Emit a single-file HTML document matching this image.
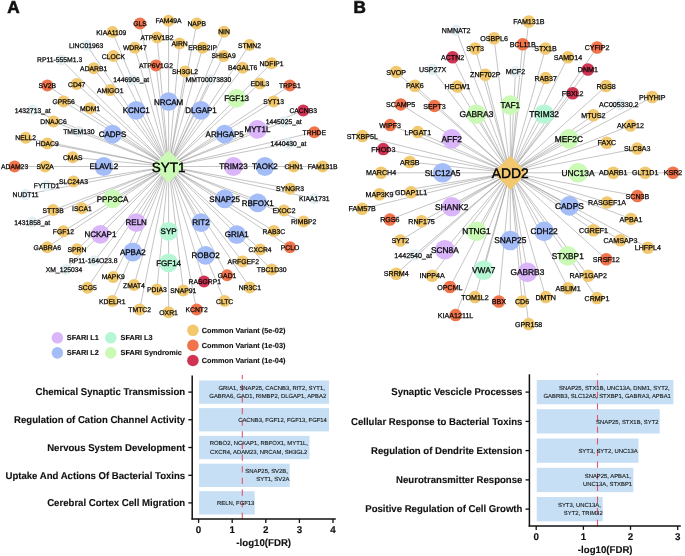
<!DOCTYPE html>
<html><head><meta charset="utf-8"><title>Figure</title>
<style>html,body{margin:0;padding:0;background:#fff}svg{display:block}text{font-family:"Liberation Sans",Arial,Helvetica,sans-serif;fill:#111;text-rendering:geometricPrecision}.s{text-anchor:middle;fill:#000;stroke:#000;stroke-width:0.25px}.h{text-anchor:middle;fill:#000;stroke:#000;stroke-width:0.3px}.c{text-anchor:middle;fill:#000;stroke:#000;stroke-width:0.4px}.b{font-weight:bold}.k{stroke:#111;stroke-width:0.12px}.e{stroke:#7d7d7d;stroke-width:0.45;fill:none}.g{font-size:5.9px;text-anchor:end;fill:#111;stroke:#111;stroke-width:0.1px}</style></head><body>
<svg width="685" height="556" viewBox="0 0 685 556">
<rect width="685" height="556" fill="#fff"/>
<text class="b" x="7.2" y="13.1" font-size="17.2" stroke="#111" stroke-width="0.6">A</text>
<text class="b" x="353.6" y="13.1" font-size="17.2" stroke="#111" stroke-width="0.6">B</text>
<path class="e" d="M168.6 166.5L322.6 166.5M168.6 166.5L290.1 188.7M168.6 166.5L314.3 198.6M168.6 166.5L284.0 210.4M168.6 166.5L303.6 221.6M168.6 166.5L224.7 198.9M168.6 166.5L273.9 231.0M168.6 166.5L290.0 247.3M168.6 166.5L260.1 249.4M168.6 166.5L271.7 269.6M168.6 166.5L242.5 261.5M168.6 166.5L249.8 287.6M168.6 166.5L201.0 222.6M168.6 166.5L227.1 275.3M168.6 166.5L224.6 301.1M168.6 166.5L204.0 281.6M168.6 166.5L196.6 309.6M168.6 166.5L183.3 290.5M168.6 166.5L168.6 312.3M168.6 166.5L156.9 289.4M168.6 166.5L139.7 309.4M168.6 166.5L134.0 285.1M168.6 166.5L112.3 301.0M168.6 166.5L113.2 276.9M168.6 166.5L136.2 222.6M168.6 166.5L87.5 287.7M168.6 166.5L94.5 260.7M168.6 166.5L65.3 269.4M168.6 166.5L77.0 249.3M168.6 166.5L47.2 247.3M168.6 166.5L63.4 231.2M168.6 166.5L112.5 198.9M168.6 166.5L81.9 208.3M168.6 166.5L32.2 222.0M168.6 166.5L53.1 210.1M168.6 166.5L25.5 194.6M168.6 166.5L46.6 185.6M168.6 166.5L14.6 166.5M168.6 166.5L72.7 157.3M168.6 166.5L47.3 143.5M168.6 166.5L25.7 137.8M168.6 166.5L53.5 121.6M168.6 166.5L32.7 110.0M168.6 166.5L112.5 134.1M168.6 166.5L63.6 101.5M168.6 166.5L47.3 85.6M168.6 166.5L90.1 108.3M168.6 166.5L76.7 84.0M168.6 166.5L61.2 59.9M168.6 166.5L93.7 68.3M168.6 166.5L87.1 45.6M168.6 166.5L136.2 110.4M168.6 166.5L113.4 56.0M168.6 166.5L112.4 32.0M168.6 166.5L134.8 47.7M168.6 166.5L140.0 23.5M168.6 166.5L156.0 65.5M168.6 166.5L157.1 37.4M168.6 166.5L168.6 20.7M168.6 166.5L179.6 43.5M168.6 166.5L185.1 71.6M168.6 166.5L196.7 23.4M168.6 166.5L202.6 47.8M168.6 166.5L224.0 31.7M168.6 166.5L210.0 79.6M168.6 166.5L223.6 55.9M168.6 166.5L201.0 110.4M168.6 166.5L249.4 45.1M168.6 166.5L242.7 67.7M168.6 166.5L271.5 63.2M168.6 166.5L259.9 83.4M168.6 166.5L289.9 85.6M168.6 166.5L273.6 101.5M168.6 166.5L224.7 134.1M168.6 166.5L303.2 110.4M168.6 166.5L283.7 121.8M168.6 166.5L314.3 132.2M168.6 166.5L288.4 143.4"/>
<circle cx="322.6" cy="166.5" r="6.00" fill="#f1c86e"/>
<circle cx="293.7" cy="166.5" r="6.00" fill="#f1c86e"/>
<circle cx="290.1" cy="188.7" r="6.00" fill="#f1c86e"/>
<circle cx="314.3" cy="198.6" r="5.50" fill="#e3eff3"/>
<circle cx="284.0" cy="210.4" r="6.00" fill="#f1c86e"/>
<circle cx="303.6" cy="221.6" r="6.00" fill="#f1c86e"/>
<circle cx="273.9" cy="231.0" r="6.00" fill="#f1c86e"/>
<circle cx="290.0" cy="247.3" r="6.00" fill="#f0734b"/>
<circle cx="260.1" cy="249.4" r="6.00" fill="#f1c86e"/>
<circle cx="271.7" cy="269.6" r="6.00" fill="#f1c86e"/>
<circle cx="242.5" cy="261.5" r="6.00" fill="#f1c86e"/>
<circle cx="249.8" cy="287.6" r="6.00" fill="#f1c86e"/>
<circle cx="227.1" cy="275.3" r="6.00" fill="#f0734b"/>
<circle cx="224.6" cy="301.1" r="6.00" fill="#f1c86e"/>
<circle cx="204.0" cy="281.6" r="6.00" fill="#cf3553"/>
<circle cx="196.6" cy="309.6" r="6.00" fill="#f0734b"/>
<circle cx="183.3" cy="290.5" r="6.00" fill="#f1c86e"/>
<circle cx="168.6" cy="312.3" r="6.00" fill="#f1c86e"/>
<circle cx="156.9" cy="289.4" r="6.00" fill="#f1c86e"/>
<circle cx="139.7" cy="309.4" r="6.00" fill="#f1c86e"/>
<circle cx="134.0" cy="285.1" r="6.00" fill="#f1c86e"/>
<circle cx="112.3" cy="301.0" r="6.00" fill="#f1c86e"/>
<circle cx="113.2" cy="276.9" r="6.00" fill="#f1c86e"/>
<circle cx="87.5" cy="287.7" r="6.00" fill="#f1c86e"/>
<circle cx="94.5" cy="260.7" r="5.50" fill="#e3eff3"/>
<circle cx="65.3" cy="269.4" r="5.50" fill="#e3eff3"/>
<circle cx="77.0" cy="249.3" r="6.00" fill="#f1c86e"/>
<circle cx="47.2" cy="247.3" r="6.00" fill="#f1c86e"/>
<circle cx="63.4" cy="231.2" r="6.00" fill="#f1c86e"/>
<circle cx="81.9" cy="208.3" r="6.00" fill="#f1c86e"/>
<circle cx="32.2" cy="222.0" r="5.50" fill="#e3eff3"/>
<circle cx="53.1" cy="210.1" r="6.00" fill="#f1c86e"/>
<circle cx="25.5" cy="194.6" r="5.50" fill="#e3eff3"/>
<circle cx="46.6" cy="185.6" r="5.50" fill="#e3eff3"/>
<circle cx="73.5" cy="181.4" r="6.00" fill="#f1c86e"/>
<circle cx="45.1" cy="166.5" r="6.00" fill="#f1c86e"/>
<circle cx="14.6" cy="166.5" r="6.00" fill="#f0734b"/>
<circle cx="72.7" cy="157.3" r="6.00" fill="#f1c86e"/>
<circle cx="47.3" cy="143.5" r="6.00" fill="#f1c86e"/>
<circle cx="25.7" cy="137.8" r="6.00" fill="#f1c86e"/>
<circle cx="53.5" cy="121.6" r="6.00" fill="#f1c86e"/>
<circle cx="78.9" cy="131.5" r="5.50" fill="#e3eff3"/>
<circle cx="32.7" cy="110.0" r="5.50" fill="#e3eff3"/>
<circle cx="63.6" cy="101.5" r="6.00" fill="#f1c86e"/>
<circle cx="47.3" cy="85.6" r="6.00" fill="#f0734b"/>
<circle cx="90.1" cy="108.3" r="6.00" fill="#f1c86e"/>
<circle cx="76.7" cy="84.0" r="6.00" fill="#f1c86e"/>
<circle cx="61.2" cy="59.9" r="5.50" fill="#e3eff3"/>
<circle cx="110.2" cy="90.0" r="6.00" fill="#f1c86e"/>
<circle cx="93.7" cy="68.3" r="6.00" fill="#f1c86e"/>
<circle cx="87.1" cy="45.6" r="5.50" fill="#e3eff3"/>
<circle cx="113.4" cy="56.0" r="6.00" fill="#f1c86e"/>
<circle cx="132.4" cy="79.9" r="5.50" fill="#e3eff3"/>
<circle cx="112.4" cy="32.0" r="6.00" fill="#f1c86e"/>
<circle cx="134.8" cy="47.7" r="6.00" fill="#f1c86e"/>
<circle cx="140.0" cy="23.5" r="6.00" fill="#f0734b"/>
<circle cx="156.0" cy="65.5" r="6.00" fill="#f0734b"/>
<circle cx="157.1" cy="37.4" r="6.00" fill="#f1c86e"/>
<circle cx="168.6" cy="20.7" r="6.00" fill="#f1c86e"/>
<circle cx="179.6" cy="43.5" r="6.00" fill="#f1c86e"/>
<circle cx="185.1" cy="71.6" r="6.00" fill="#f1c86e"/>
<circle cx="196.7" cy="23.4" r="6.00" fill="#f1c86e"/>
<circle cx="202.6" cy="47.8" r="6.00" fill="#f1c86e"/>
<circle cx="224.0" cy="31.7" r="6.00" fill="#f1c86e"/>
<circle cx="210.0" cy="79.6" r="5.50" fill="#e3eff3"/>
<circle cx="223.6" cy="55.9" r="6.00" fill="#f1c86e"/>
<circle cx="249.4" cy="45.1" r="6.00" fill="#f1c86e"/>
<circle cx="242.7" cy="67.7" r="6.00" fill="#f1c86e"/>
<circle cx="271.5" cy="63.2" r="6.00" fill="#f1c86e"/>
<circle cx="259.9" cy="83.4" r="6.00" fill="#f1c86e"/>
<circle cx="289.9" cy="85.6" r="6.00" fill="#f0734b"/>
<circle cx="273.6" cy="101.5" r="6.00" fill="#f1c86e"/>
<circle cx="303.2" cy="110.4" r="6.00" fill="#cf3553"/>
<circle cx="283.7" cy="121.8" r="5.50" fill="#e3eff3"/>
<circle cx="314.3" cy="132.2" r="6.00" fill="#f0734b"/>
<circle cx="288.4" cy="143.4" r="5.50" fill="#e3eff3"/>
<circle cx="233.4" cy="166.5" r="9.40" fill="#dab5fa"/>
<circle cx="264.9" cy="166.5" r="9.40" fill="#a4bcf7"/>
<circle cx="257.7" cy="202.9" r="9.40" fill="#a4bcf7"/>
<circle cx="224.7" cy="198.9" r="9.40" fill="#a4bcf7"/>
<circle cx="236.7" cy="234.6" r="9.40" fill="#a4bcf7"/>
<circle cx="201.0" cy="222.6" r="9.40" fill="#a4bcf7"/>
<circle cx="205.6" cy="255.4" r="9.40" fill="#a4bcf7"/>
<circle cx="168.6" cy="231.3" r="9.40" fill="#b5f7d5"/>
<circle cx="168.6" cy="262.8" r="9.40" fill="#b5f7d5"/>
<circle cx="132.8" cy="252.0" r="9.40" fill="#a4bcf7"/>
<circle cx="136.2" cy="222.6" r="9.40" fill="#dab5fa"/>
<circle cx="100.4" cy="234.4" r="9.40" fill="#dab5fa"/>
<circle cx="112.5" cy="198.9" r="9.40" fill="#cbf9b6"/>
<circle cx="103.8" cy="166.5" r="9.40" fill="#a4bcf7"/>
<circle cx="112.5" cy="134.1" r="9.40" fill="#a4bcf7"/>
<circle cx="136.2" cy="110.4" r="9.40" fill="#a4bcf7"/>
<circle cx="168.6" cy="101.7" r="9.40" fill="#a4bcf7"/>
<circle cx="201.0" cy="110.4" r="9.40" fill="#a4bcf7"/>
<circle cx="236.6" cy="98.3" r="9.40" fill="#cbf9b6"/>
<circle cx="224.7" cy="134.1" r="9.40" fill="#a4bcf7"/>
<circle cx="257.5" cy="129.4" r="9.40" fill="#dab5fa"/>
<polygon points="168.6,150.3 184.79999999999998,166.5 168.6,182.7 152.4,166.5" fill="#cbf9b6"/>
<g class="s" font-size="6.80">
<text x="322.6" y="169.0">FAM131B</text>
<text x="293.7" y="169.0">CHN1</text>
<text x="290.1" y="191.2">SYNGR3</text>
<text x="314.3" y="201.1">KIAA1731</text>
<text x="284.0" y="212.9">EXOC2</text>
<text x="303.6" y="224.1">RIMBP2</text>
<text x="273.9" y="233.5">RAB3C</text>
<text x="290.0" y="249.8">PCLO</text>
<text x="260.1" y="251.9">CXCR4</text>
<text x="271.7" y="272.1">TBC1D30</text>
<text x="243.3" y="264.0">ARFGEF2</text>
<text x="249.8" y="290.1">NR3C1</text>
<text x="227.1" y="277.8">GAD1</text>
<text x="224.6" y="303.6">CLTC</text>
<text x="204.8" y="284.1">RASGRP1</text>
<text x="196.6" y="312.1">KCNT2</text>
<text x="183.3" y="293.0">SNAP91</text>
<text x="168.6" y="314.8">OXR1</text>
<text x="156.9" y="291.9">PDIA3</text>
<text x="139.7" y="311.9">TMTC2</text>
<text x="134.0" y="287.6">ZMAT4</text>
<text x="112.3" y="303.5">KDELR1</text>
<text x="113.2" y="279.4">MAPK9</text>
<text x="87.5" y="290.2">SCG5</text>
<text x="93.2" y="263.2">RP11-164O23.8</text>
<text x="64.0" y="271.9">XM_125034</text>
<text x="77.0" y="251.8">SPRN</text>
<text x="47.2" y="249.8">GABRA6</text>
<text x="63.4" y="233.7">FGF12</text>
<text x="81.9" y="210.8">ISCA1</text>
<text x="32.2" y="224.5">1431858_at</text>
<text x="53.1" y="212.6">STT3B</text>
<text x="25.5" y="197.1">NUDT11</text>
<text x="46.6" y="188.1">FYTTD1</text>
<text x="73.5" y="183.9">SLC24A3</text>
<text x="45.1" y="169.0">SV2A</text>
<text x="14.6" y="169.0">ADAM23</text>
<text x="72.7" y="159.8">CMAS</text>
<text x="47.3" y="146.0">HDAC9</text>
<text x="25.7" y="140.3">NELL2</text>
<text x="53.5" y="124.1">DNAJC6</text>
<text x="78.9" y="134.0">TMEM130</text>
<text x="32.7" y="112.5">1432713_at</text>
<text x="63.6" y="104.0">GPR56</text>
<text x="47.3" y="88.1">SV2B</text>
<text x="90.1" y="110.8">MDM1</text>
<text x="76.7" y="86.5">CD47</text>
<text x="59.6" y="62.4">RP11-555M1.3</text>
<text x="110.2" y="92.5">AMIGO1</text>
<text x="93.7" y="70.8">ADARB1</text>
<text x="86.1" y="48.1">LINC01963</text>
<text x="113.4" y="58.5">CLOCK</text>
<text x="131.2" y="82.4">1446906_at</text>
<text x="111.3" y="34.5">KIAA1109</text>
<text x="134.8" y="50.2">WDR47</text>
<text x="140.0" y="26.0">GLS</text>
<text x="156.0" y="68.0">ATP6V1G2</text>
<text x="157.1" y="39.9">ATP6V1B2</text>
<text x="168.6" y="23.2">FAM49A</text>
<text x="179.6" y="46.0">AIRN</text>
<text x="185.1" y="74.1">SH3GL2</text>
<text x="196.7" y="25.9">NAPB</text>
<text x="202.6" y="50.3">ERBB2IP</text>
<text x="224.0" y="34.2">NIN</text>
<text x="208.5" y="82.1">MMT00073830</text>
<text x="223.6" y="58.4">SHISA9</text>
<text x="249.4" y="47.6">STMN2</text>
<text x="242.7" y="70.2">B4GALT6</text>
<text x="271.5" y="65.7">NDFIP1</text>
<text x="259.9" y="85.9">EDIL3</text>
<text x="289.9" y="88.1">TRPS1</text>
<text x="273.6" y="104.0">SYT13</text>
<text x="303.2" y="112.9">CACNB3</text>
<text x="283.7" y="124.3">1445025_at</text>
<text x="314.3" y="134.7">TRHDE</text>
<text x="288.4" y="145.9">1440430_at</text>
</g>
<g class="h" font-size="8.00">
<text x="233.4" y="169.2">TRIM23</text>
<text x="264.9" y="169.2">TAOK2</text>
<text x="257.7" y="205.7">RBFOX1</text>
<text x="224.7" y="201.7">SNAP25</text>
<text x="236.7" y="237.3">GRIA1</text>
<text x="201.0" y="225.3">RIT2</text>
<text x="205.6" y="258.1">ROBO2</text>
<text x="168.6" y="234.1">SYP</text>
<text x="168.6" y="265.6">FGF14</text>
<text x="132.8" y="254.8">APBA2</text>
<text x="136.2" y="225.3">RELN</text>
<text x="100.4" y="237.2">NCKAP1</text>
<text x="112.5" y="201.7">PPP3CA</text>
<text x="103.8" y="169.2">ELAVL2</text>
<text x="112.5" y="136.8">CADPS</text>
<text x="136.2" y="113.2">KCNC1</text>
<text x="168.6" y="104.5">NRCAM</text>
<text x="201.0" y="113.2">DLGAP1</text>
<text x="236.6" y="101.0">FGF13</text>
<text x="224.7" y="136.8">ARHGAP5</text>
<text x="257.5" y="132.2">MYT1L</text>
</g>
<text class="c" font-size="13.5" x="168.6" y="171.5">SYT1</text>
<path class="e" d="M510.3 172.8L673.0 172.8M510.3 172.8L637.4 196.0M510.3 172.8L607.0 202.4M510.3 172.8L631.0 218.9M510.3 172.8L647.8 247.7M510.3 172.8L569.4 205.9M510.3 172.8L620.4 240.3M510.3 172.8L593.5 230.2M510.3 172.8L606.2 259.3M510.3 172.8L588.2 275.8M510.3 172.8L597.0 298.1M510.3 172.8L544.1 231.4M510.3 172.8L568.1 288.3M510.3 172.8L545.7 297.1M510.3 172.8L527.4 272.4M510.3 172.8L528.7 324.1M510.3 172.8L522.1 301.5M510.3 172.8L510.3 240.5M510.3 172.8L498.8 301.5M510.3 172.8L483.7 270.3M510.3 172.8L475.0 297.1M510.3 172.8L455.6 315.1M510.3 172.8L449.9 287.0M510.3 172.8L476.5 231.4M510.3 172.8L432.1 275.7M510.3 172.8L444.8 249.8M510.3 172.8L396.2 273.8M510.3 172.8L414.6 255.0M510.3 172.8L400.3 240.6M510.3 172.8L451.7 206.7M510.3 172.8L421.6 221.3M510.3 172.8L389.9 219.6M510.3 172.8L362.2 208.8M510.3 172.8L411.1 192.3M510.3 172.8L379.5 194.3M510.3 172.8L381.1 172.8M510.3 172.8L409.8 162.0M510.3 172.8L383.3 149.1M510.3 172.8L362.4 136.1M510.3 172.8L390.2 125.1M510.3 172.8L417.8 132.1M510.3 172.8L451.7 138.9M510.3 172.8L400.7 104.4M510.3 172.8L396.1 71.9M510.3 172.8L414.9 85.7M510.3 172.8L432.6 69.6M510.3 172.8L457.4 86.6M510.3 172.8L476.4 114.2M510.3 172.8L452.6 57.2M510.3 172.8L456.2 30.3M510.3 172.8L475.2 48.5M510.3 172.8L485.3 74.8M510.3 172.8L494.1 38.3M510.3 172.8L510.3 105.1M510.3 172.8L515.5 71.8M510.3 172.8L522.7 44.2M510.3 172.8L528.8 21.5M510.3 172.8L545.5 48.5M510.3 172.8L545.7 78.1M510.3 172.8L567.9 57.2M510.3 172.8L544.1 114.2M510.3 172.8L597.1 47.5M510.3 172.8L587.9 69.5M510.3 172.8L572.7 93.2M510.3 172.8L606.1 86.1M510.3 172.8L593.4 115.2M510.3 172.8L620.0 104.5M510.3 172.8L568.9 138.9M510.3 172.8L652.3 97.0M510.3 172.8L630.5 125.5M510.3 172.8L606.8 142.7M510.3 172.8L637.2 148.6"/>
<circle cx="673.0" cy="172.8" r="6.27" fill="#f0734b"/>
<circle cx="645.2" cy="172.8" r="6.27" fill="#f1c86e"/>
<circle cx="613.3" cy="172.8" r="6.27" fill="#f1c86e"/>
<circle cx="637.4" cy="196.0" r="6.27" fill="#f0734b"/>
<circle cx="607.0" cy="202.4" r="6.27" fill="#f1c86e"/>
<circle cx="631.0" cy="218.9" r="6.27" fill="#f1c86e"/>
<circle cx="647.8" cy="247.7" r="6.27" fill="#f1c86e"/>
<circle cx="620.4" cy="240.3" r="6.27" fill="#f1c86e"/>
<circle cx="593.5" cy="230.2" r="6.27" fill="#f1c86e"/>
<circle cx="606.2" cy="259.3" r="6.27" fill="#f0734b"/>
<circle cx="588.2" cy="275.8" r="6.27" fill="#f1c86e"/>
<circle cx="597.0" cy="298.1" r="6.27" fill="#f1c86e"/>
<circle cx="568.1" cy="288.3" r="6.27" fill="#f1c86e"/>
<circle cx="545.7" cy="297.1" r="6.27" fill="#f1c86e"/>
<circle cx="528.7" cy="324.1" r="6.27" fill="#f1c86e"/>
<circle cx="522.1" cy="301.5" r="6.27" fill="#f1c86e"/>
<circle cx="498.8" cy="301.5" r="6.27" fill="#f0734b"/>
<circle cx="475.0" cy="297.1" r="6.27" fill="#f1c86e"/>
<circle cx="455.6" cy="315.1" r="6.27" fill="#f0734b"/>
<circle cx="449.9" cy="287.0" r="6.27" fill="#f0734b"/>
<circle cx="432.1" cy="275.7" r="6.27" fill="#f1c86e"/>
<circle cx="396.2" cy="273.8" r="6.27" fill="#f1c86e"/>
<circle cx="414.6" cy="255.0" r="5.75" fill="#e3eff3"/>
<circle cx="400.3" cy="240.6" r="6.27" fill="#f1c86e"/>
<circle cx="421.6" cy="221.3" r="6.27" fill="#f1c86e"/>
<circle cx="389.9" cy="219.6" r="6.27" fill="#f0734b"/>
<circle cx="362.2" cy="208.8" r="6.27" fill="#f1c86e"/>
<circle cx="411.1" cy="192.3" r="6.27" fill="#f1c86e"/>
<circle cx="379.5" cy="194.3" r="6.27" fill="#f1c86e"/>
<circle cx="381.1" cy="172.8" r="6.27" fill="#f1c86e"/>
<circle cx="409.8" cy="162.0" r="6.27" fill="#f1c86e"/>
<circle cx="383.3" cy="149.1" r="6.27" fill="#cf3553"/>
<circle cx="362.4" cy="136.1" r="6.27" fill="#f1c86e"/>
<circle cx="390.2" cy="125.1" r="6.27" fill="#f0734b"/>
<circle cx="417.8" cy="132.1" r="6.27" fill="#f1c86e"/>
<circle cx="400.7" cy="104.4" r="6.27" fill="#f0734b"/>
<circle cx="434.5" cy="105.9" r="6.27" fill="#f0734b"/>
<circle cx="396.1" cy="71.9" r="6.27" fill="#f1c86e"/>
<circle cx="414.9" cy="85.7" r="6.27" fill="#f1c86e"/>
<circle cx="432.6" cy="69.6" r="5.75" fill="#e3eff3"/>
<circle cx="457.4" cy="86.6" r="6.27" fill="#f1c86e"/>
<circle cx="452.6" cy="57.2" r="6.27" fill="#cf3553"/>
<circle cx="456.2" cy="30.3" r="5.75" fill="#e3eff3"/>
<circle cx="475.2" cy="48.5" r="6.27" fill="#f1c86e"/>
<circle cx="485.3" cy="74.8" r="6.27" fill="#f1c86e"/>
<circle cx="494.1" cy="38.3" r="6.27" fill="#f1c86e"/>
<circle cx="515.5" cy="71.8" r="5.75" fill="#e3eff3"/>
<circle cx="522.7" cy="44.2" r="6.27" fill="#f0734b"/>
<circle cx="528.8" cy="21.5" r="6.27" fill="#f1c86e"/>
<circle cx="545.5" cy="48.5" r="6.27" fill="#f1c86e"/>
<circle cx="545.7" cy="78.1" r="6.27" fill="#f1c86e"/>
<circle cx="567.9" cy="57.2" r="6.27" fill="#f1c86e"/>
<circle cx="597.1" cy="47.5" r="6.27" fill="#f0734b"/>
<circle cx="587.9" cy="69.5" r="6.27" fill="#cf3553"/>
<circle cx="572.7" cy="93.2" r="6.27" fill="#cf3553"/>
<circle cx="606.1" cy="86.1" r="6.27" fill="#f1c86e"/>
<circle cx="593.4" cy="115.2" r="6.27" fill="#f1c86e"/>
<circle cx="620.0" cy="104.5" r="5.75" fill="#e3eff3"/>
<circle cx="652.3" cy="97.0" r="6.27" fill="#f1c86e"/>
<circle cx="630.5" cy="125.5" r="6.27" fill="#f1c86e"/>
<circle cx="606.8" cy="142.7" r="6.27" fill="#f1c86e"/>
<circle cx="637.2" cy="148.6" r="6.27" fill="#f1c86e"/>
<circle cx="578.0" cy="172.8" r="9.82" fill="#cbf9b6"/>
<circle cx="569.4" cy="205.9" r="9.82" fill="#a4bcf7"/>
<circle cx="567.8" cy="255.9" r="9.82" fill="#cbf9b6"/>
<circle cx="544.1" cy="231.4" r="9.82" fill="#a4bcf7"/>
<circle cx="527.4" cy="272.4" r="9.82" fill="#dab5fa"/>
<circle cx="510.3" cy="240.5" r="9.82" fill="#a4bcf7"/>
<circle cx="483.7" cy="270.3" r="9.82" fill="#b5f7d5"/>
<circle cx="476.5" cy="231.4" r="9.82" fill="#cbf9b6"/>
<circle cx="444.8" cy="249.8" r="9.82" fill="#dab5fa"/>
<circle cx="451.7" cy="206.7" r="9.82" fill="#dab5fa"/>
<circle cx="442.6" cy="172.8" r="9.82" fill="#a4bcf7"/>
<circle cx="451.7" cy="138.9" r="9.82" fill="#dab5fa"/>
<circle cx="476.4" cy="114.2" r="9.82" fill="#cbf9b6"/>
<circle cx="510.3" cy="105.1" r="9.82" fill="#cbf9b6"/>
<circle cx="544.1" cy="114.2" r="9.82" fill="#b5f7d5"/>
<circle cx="568.9" cy="138.9" r="9.82" fill="#cbf9b6"/>
<polygon points="510.3,155.8 527.3,172.8 510.3,189.8 493.3,172.8" fill="#f1c86e"/>
<g class="s" font-size="7.11">
<text x="673.0" y="175.4">KSR2</text>
<text x="645.2" y="175.4">GLT1D1</text>
<text x="613.3" y="175.4">ADARB1</text>
<text x="637.4" y="198.6">SCN3B</text>
<text x="607.0" y="205.0">RASGEF1A</text>
<text x="631.0" y="221.5">APBA1</text>
<text x="647.8" y="250.3">LHFPL4</text>
<text x="620.4" y="242.9">CAMSAP3</text>
<text x="593.5" y="232.8">CGREF1</text>
<text x="606.2" y="261.9">SRSF12</text>
<text x="588.2" y="278.4">RAP1GAP2</text>
<text x="597.0" y="300.7">CRMP1</text>
<text x="568.1" y="290.9">ABLIM1</text>
<text x="545.7" y="299.7">DMTN</text>
<text x="528.7" y="326.7">GPR158</text>
<text x="522.1" y="304.1">CD6</text>
<text x="498.8" y="304.1">BBX</text>
<text x="475.0" y="299.7">TOM1L2</text>
<text x="455.6" y="317.7">KIAA1211L</text>
<text x="449.9" y="289.6">OPCML</text>
<text x="432.1" y="278.3">INPP4A</text>
<text x="396.2" y="276.4">SRRM4</text>
<text x="413.1" y="257.6">1442540_at</text>
<text x="400.3" y="243.2">SYT2</text>
<text x="421.6" y="223.9">RNF175</text>
<text x="389.9" y="222.2">RGS6</text>
<text x="362.2" y="211.4">FAM57B</text>
<text x="411.1" y="194.9">GDAP1L1</text>
<text x="379.5" y="196.9">MAP3K9</text>
<text x="381.1" y="175.4">MARCH4</text>
<text x="409.8" y="164.6">ARSB</text>
<text x="383.3" y="151.7">FHOD3</text>
<text x="362.4" y="138.7">STXBP5L</text>
<text x="390.2" y="127.7">WIPF3</text>
<text x="417.8" y="134.7">LPGAT1</text>
<text x="400.7" y="107.0">SCAMP5</text>
<text x="434.5" y="108.5">SEPT3</text>
<text x="396.1" y="74.5">SVOP</text>
<text x="414.9" y="88.3">PAK6</text>
<text x="432.6" y="72.2">USP27X</text>
<text x="457.4" y="89.2">HECW1</text>
<text x="452.6" y="59.8">ACTN2</text>
<text x="456.2" y="32.9">NMNAT2</text>
<text x="475.2" y="51.1">SYT3</text>
<text x="485.3" y="77.4">ZNF702P</text>
<text x="494.1" y="40.9">OSBPL6</text>
<text x="515.5" y="74.4">MCF2</text>
<text x="522.7" y="46.8">BCL11B</text>
<text x="528.8" y="24.1">FAM131B</text>
<text x="545.5" y="51.1">STX1B</text>
<text x="545.7" y="80.7">RAB37</text>
<text x="567.9" y="59.8">SAMD14</text>
<text x="597.1" y="50.1">CYFIP2</text>
<text x="587.9" y="72.1">DNM1</text>
<text x="572.7" y="95.8">FBXL2</text>
<text x="606.1" y="88.7">RGS8</text>
<text x="593.4" y="117.8">MTUS2</text>
<text x="618.8" y="107.1">AC005330.2</text>
<text x="652.3" y="99.6">PHYHIP</text>
<text x="630.5" y="128.1">AKAP12</text>
<text x="606.8" y="145.3">FAXC</text>
<text x="637.2" y="151.2">SLC8A3</text>
</g>
<g class="h" font-size="8.36">
<text x="578.0" y="175.7">UNC13A</text>
<text x="569.4" y="208.8">CADPS</text>
<text x="567.8" y="258.8">STXBP1</text>
<text x="544.1" y="234.3">CDH22</text>
<text x="527.4" y="275.3">GABRB3</text>
<text x="510.3" y="243.4">SNAP25</text>
<text x="483.7" y="273.2">VWA7</text>
<text x="476.5" y="234.3">NTNG1</text>
<text x="444.8" y="252.7">SCN8A</text>
<text x="451.7" y="209.6">SHANK2</text>
<text x="442.6" y="175.7">SLC12A5</text>
<text x="451.7" y="141.8">AFF2</text>
<text x="476.4" y="117.1">GABRA3</text>
<text x="510.3" y="108.0">TAF1</text>
<text x="544.1" y="117.1">TRIM32</text>
<text x="568.9" y="141.8">MEF2C</text>
</g>
<text class="c" font-size="13.9" x="510.3" y="178.0">ADD2</text>
<circle cx="57.4" cy="337.8" r="5.8" fill="#dab5fa"/>
<text class="b k" font-size="7.32" x="66.8" y="340.3">SFARI L1</text>
<circle cx="57.4" cy="352.9" r="5.8" fill="#a4bcf7"/>
<text class="b k" font-size="7.32" x="66.8" y="355.4">SFARI L2</text>
<circle cx="110.8" cy="337.8" r="5.8" fill="#b5f7d5"/>
<text class="b k" font-size="7.32" x="120.5" y="340.3">SFARI L3</text>
<circle cx="110.8" cy="352.9" r="5.8" fill="#cbf9b6"/>
<text class="b k" font-size="7.32" x="120.5" y="355.4">SFARI Syndromic</text>
<circle cx="192.9" cy="330.3" r="5.8" fill="#f1c86e"/>
<text class="b k" font-size="7.32" x="201.7" y="332.8">Common Variant (5e-02)</text>
<circle cx="192.9" cy="345.4" r="5.8" fill="#f0734b"/>
<text class="b k" font-size="7.32" x="201.7" y="347.9">Common Variant (1e-03)</text>
<circle cx="192.9" cy="360.5" r="5.8" fill="#cf3553"/>
<text class="b k" font-size="7.32" x="201.7" y="363.0">Common Variant (1e-04)</text>
<rect x="199.1" y="380.5" width="129.9" height="23.3" fill="#c6dff4"/>
<rect x="199.1" y="408.1" width="129.9" height="23.3" fill="#c6dff4"/>
<rect x="199.1" y="435.9" width="110.4" height="23.3" fill="#c6dff4"/>
<rect x="199.1" y="463.7" width="90.6" height="23.3" fill="#c6dff4"/>
<rect x="199.1" y="491.2" width="55.6" height="23.3" fill="#c6dff4"/>
<line x1="242.3" y1="518.9" x2="242.3" y2="375.0" stroke="#e4546d" stroke-width="1.1" stroke-dasharray="6.2,5.43"/>
<text class="g" x="324.9" y="390.0">GRIA1, SNAP25, CACNB3, RIT2, SYT1,</text>
<text class="g" x="326.2" y="398.4">GABRA6, GAD1, RIMBP2, DLGAP1, APBA2</text>
<text class="b k" font-size="9.9" text-anchor="end" transform="translate(185.2,395.4) scale(0.971,1)">Chemical Synaptic Transmission</text>
<line x1="188.3" y1="392.1" x2="192.2" y2="392.1" stroke="#111" stroke-width="1.3"/>
<text class="g" x="326.9" y="421.8">CACNB3, FGF12, FGF13, FGF14</text>
<text class="b k" font-size="9.9" text-anchor="end" transform="translate(185.2,423.1) scale(0.971,1)">Regulation of Cation Channel Activity</text>
<line x1="188.3" y1="419.75" x2="192.2" y2="419.75" stroke="#111" stroke-width="1.3"/>
<text class="g" x="308.0" y="445.4">ROBO2, NCKAP1, RBFOX1, MYT1L,</text>
<text class="g" x="307.3" y="453.8">CXCR4, ADAM23, NRCAM, SH3GL2</text>
<text class="b k" font-size="9.9" text-anchor="end" transform="translate(185.2,450.8) scale(0.971,1)">Nervous System Development</text>
<line x1="188.3" y1="447.5" x2="192.2" y2="447.5" stroke="#111" stroke-width="1.3"/>
<text class="g" x="287.9" y="472.7">SNAP25, SV2B,</text>
<text class="g" x="289.4" y="481.3">SYT1, SV2A</text>
<text class="b k" font-size="9.9" text-anchor="end" transform="translate(185.2,478.6) scale(0.971,1)">Uptake And Actions Of Bacterial Toxins</text>
<line x1="188.3" y1="475.3" x2="192.2" y2="475.3" stroke="#111" stroke-width="1.3"/>
<text class="g" x="254.4" y="504.9">RELN, FGF13</text>
<text class="b k" font-size="9.9" text-anchor="end" transform="translate(185.2,506.2) scale(0.971,1)">Cerebral Cortex Cell Migration</text>
<line x1="188.3" y1="502.9" x2="192.2" y2="502.9" stroke="#111" stroke-width="1.3"/>
<line x1="192.2" y1="375.6" x2="192.2" y2="519.6" stroke="#111" stroke-width="1.5"/>
<line x1="191.5" y1="518.9" x2="335.8" y2="518.9" stroke="#111" stroke-width="1.5"/>
<line x1="198.6" y1="518.9" x2="198.6" y2="522.9" stroke="#111" stroke-width="1.3"/>
<text class="b k" font-size="9.8" text-anchor="middle" x="198.6" y="532.9">0</text>
<line x1="232.2" y1="518.9" x2="232.2" y2="522.9" stroke="#111" stroke-width="1.3"/>
<text class="b k" font-size="9.8" text-anchor="middle" x="232.2" y="532.9">1</text>
<line x1="265.8" y1="518.9" x2="265.8" y2="522.9" stroke="#111" stroke-width="1.3"/>
<text class="b k" font-size="9.8" text-anchor="middle" x="265.8" y="532.9">2</text>
<line x1="299.4" y1="518.9" x2="299.4" y2="522.9" stroke="#111" stroke-width="1.3"/>
<text class="b k" font-size="9.8" text-anchor="middle" x="299.4" y="532.9">3</text>
<line x1="333.0" y1="518.9" x2="333.0" y2="522.9" stroke="#111" stroke-width="1.3"/>
<text class="b k" font-size="9.8" text-anchor="middle" x="333.0" y="532.9">4</text>
<text class="b k" font-size="9.9" text-anchor="middle" transform="translate(263.7,546.0) scale(0.978,1)">-log10(FDR)</text>
<rect x="536.7" y="380.0" width="136.7" height="24.3" fill="#c6dff4"/>
<rect x="536.7" y="409.2" width="123.0" height="24.3" fill="#c6dff4"/>
<rect x="536.7" y="438.5" width="101.8" height="24.3" fill="#c6dff4"/>
<rect x="536.7" y="467.8" width="96.6" height="24.3" fill="#c6dff4"/>
<rect x="536.7" y="497.0" width="66.0" height="24.3" fill="#c6dff4"/>
<line x1="597.5" y1="525.9" x2="597.5" y2="373.7" stroke="#e4546d" stroke-width="1.1" stroke-dasharray="6.2,5.43"/>
<text class="g" x="669.7" y="390.0">SNAP25, STX1B, UNC13A, DNM1, SYT2,</text>
<text class="g" x="670.9" y="398.4">GABRB3, SLC12A5, STXBP1, GABRA3, APBA1</text>
<text class="b k" font-size="9.9" text-anchor="end" transform="translate(522.4,395.4) scale(0.971,1)">Synaptic Vescicle Processes</text>
<line x1="525.5" y1="392.1" x2="529.4" y2="392.1" stroke="#111" stroke-width="1.3"/>
<text class="g" x="658.6" y="423.5">SNAP25, STX1B, SYT2</text>
<text class="b k" font-size="9.9" text-anchor="end" transform="translate(522.4,424.7) scale(0.971,1)">Cellular Response to Bacterial Toxins</text>
<line x1="525.5" y1="421.4" x2="529.4" y2="421.4" stroke="#111" stroke-width="1.3"/>
<text class="g" x="637.7" y="452.9">SYT3, SYT2, UNC13A</text>
<text class="b k" font-size="9.9" text-anchor="end" transform="translate(522.4,453.9) scale(0.971,1)">Regulation of Dendrite Extension</text>
<line x1="525.5" y1="450.6" x2="529.4" y2="450.6" stroke="#111" stroke-width="1.3"/>
<text class="g" x="630.9" y="477.7">SNAP25, APBA1,</text>
<text class="g" x="632.1" y="486.1">UNC13A, STXBP1</text>
<text class="b k" font-size="9.9" text-anchor="end" transform="translate(522.4,483.2) scale(0.971,1)">Neurotransmitter Response</text>
<line x1="525.5" y1="479.9" x2="529.4" y2="479.9" stroke="#111" stroke-width="1.3"/>
<text class="g" x="600.9" y="506.8">SYT3, UNC13A,</text>
<text class="g" x="602.7" y="515.2">SYT2, TRIM32</text>
<text class="b k" font-size="9.9" text-anchor="end" transform="translate(522.4,512.4) scale(0.971,1)">Positive Regulation of Cell Growth</text>
<line x1="525.5" y1="509.1" x2="529.4" y2="509.1" stroke="#111" stroke-width="1.3"/>
<line x1="529.4" y1="374.3" x2="529.4" y2="526.6" stroke="#111" stroke-width="1.5"/>
<line x1="528.7" y1="525.9" x2="680.8" y2="525.9" stroke="#111" stroke-width="1.5"/>
<line x1="536.2" y1="525.9" x2="536.2" y2="529.9" stroke="#111" stroke-width="1.3"/>
<text class="b k" font-size="9.8" text-anchor="middle" x="536.2" y="539.9">0</text>
<line x1="583.4" y1="525.9" x2="583.4" y2="529.9" stroke="#111" stroke-width="1.3"/>
<text class="b k" font-size="9.8" text-anchor="middle" x="583.4" y="539.9">1</text>
<line x1="630.5" y1="525.9" x2="630.5" y2="529.9" stroke="#111" stroke-width="1.3"/>
<text class="b k" font-size="9.8" text-anchor="middle" x="630.5" y="539.9">2</text>
<line x1="677.7" y1="525.9" x2="677.7" y2="529.9" stroke="#111" stroke-width="1.3"/>
<text class="b k" font-size="9.8" text-anchor="middle" x="677.7" y="539.9">3</text>
<text class="b k" font-size="9.9" text-anchor="middle" transform="translate(605.2,553.0) scale(0.978,1)">-log10(FDR)</text>
</svg></body></html>
